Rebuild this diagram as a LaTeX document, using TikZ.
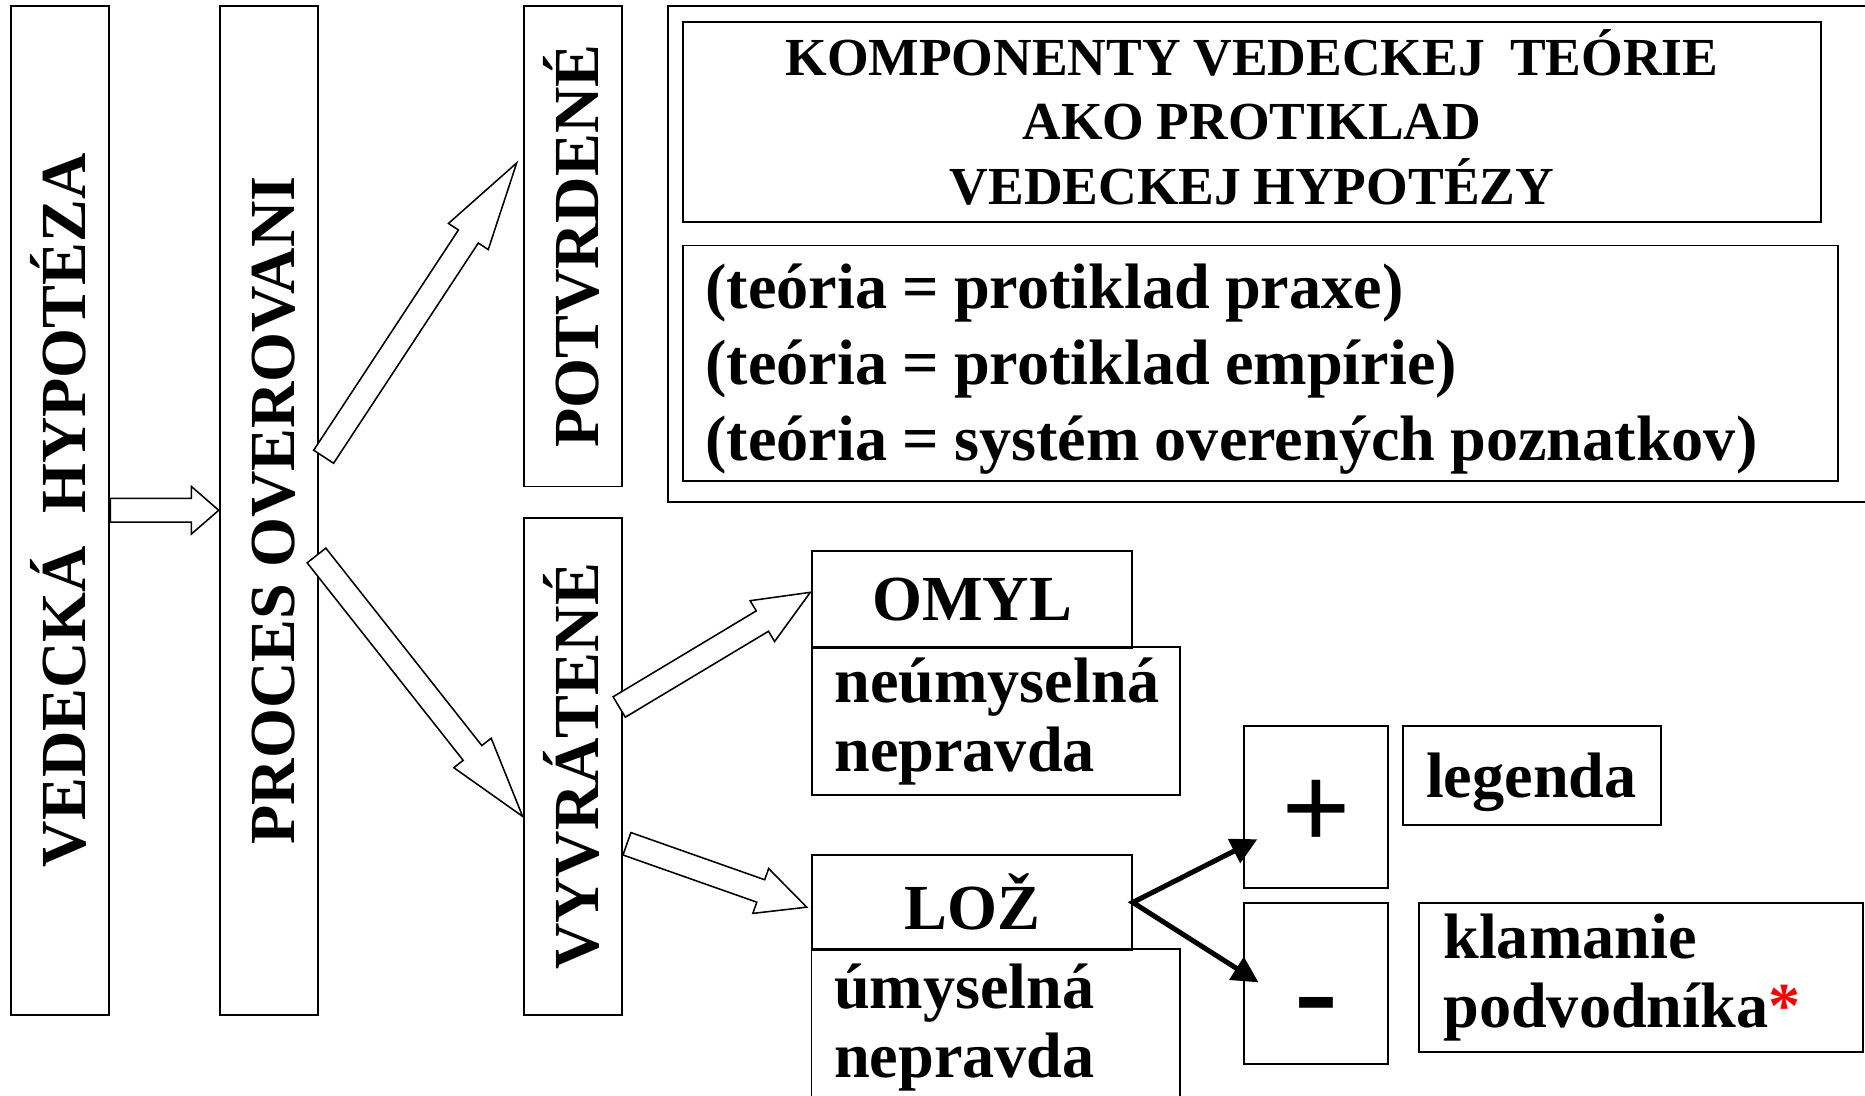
\documentclass[tikz,border=0pt]{standalone}
\usepackage{fontspec}
\setmainfont{Liberation Serif}
\setsansfont{Liberation Sans}
\usetikzlibrary{calc,arrows.meta}

% hollow block arrow from #1 to #2, head length #3
\newcommand\fatarrow[3]{%
  \coordinate (fa-b) at ($(#2)!#3!(#1)$);
  \draw[fatarrow] ($(#1)!10pt!90:(#2)$) -- ($(fa-b)!10pt!90:(#2)$) -- ($(fa-b)!20pt!90:(#2)$) -- (#2)
    -- ($(fa-b)!20pt!-90:(#2)$) -- ($(fa-b)!10pt!-90:(#2)$) -- ($(#1)!10pt!-90:(#2)$) -- cycle;
}

\begin{document}
\begin{tikzpicture}[x=1pt,y=-1pt,
  box/.style={draw, line width=1.6pt, inner sep=0pt, font=\bfseries\fontsize{54}{58}\selectfont},
  vbox/.style={box, rotate=90, minimum height=82.6pt, text height=43pt, text depth=0pt},
  narrow/.style={execute at begin node={\spaceskip=.235em\relax}},
  fatarrow/.style={draw, fill=white, line width=1.3pt, line join=miter},
  blackarrow/.style={line width=4.2pt, {Triangle[length=22pt,width=22pt]}-{Triangle[length=22pt,width=22pt]}}]
\useasboundingbox (0,0) rectangle (1568,921);
% vertical boxes (rotated: south = right side, north = left side)
\node[vbox, minimum width=848pt] (hyp) at (50.6,429) {VEDECKÁ\ \ HYPOTÉZA};
\node[vbox, minimum width=848pt] (proc) at (226,429) {PROCES OVEROVANI};
\node[vbox, minimum width=404pt] (potv) at (481.5,207) {POTVRDENÉ};
\node[vbox, minimum width=418pt] (vyvr) at (481.5,644.4) {VYVRÁTENÉ};
% theory frame
\draw[line width=1.6pt] (1568,5) -| (561.5,422) -- (1568,422);
\node[box, narrow, minimum width=956.4pt, minimum height=168.7pt, text width=930pt, align=center, text height=31pt,
  font=\bfseries\fontsize{45}{54}\selectfont] (title) at (1052.5,102.5)
  {KOMPONENTY VEDECKEJ\ \ TEÓRIE\\AKO PROTIKLAD\\VEDECKEJ HYPOTÉZY};
\node[box, narrow, minimum width=970.7pt, minimum height=198pt, text width=933pt, align=left, text height=47pt,
  font=\bfseries\fontsize{54}{64}\selectfont] (teoria) at (1059.7,305.4)
  {(teória = protiklad praxe)\\(teória = protiklad empírie)\\(teória = systém overených poznatkov)};
% omyl / loz
\node[box, minimum width=268.5pt, minimum height=82pt] (omyl) at (817.3,504) {OMYL};
\node[box, minimum width=309pt, minimum height=124.4pt, text width=272pt, align=left] (neum) at (837.5,606.2) {neúmyselná\\nepravda};
\node[box, minimum width=268.5pt, minimum height=80pt] (loz) at (817.3,758.7) {LOŽ};
\node[box, draw=none, minimum width=308.5pt, minimum height=122.3pt, text width=272pt, align=left, text height=45pt] (umys) at (837.3,859.9) {úmyselná\\nepravda};
\draw[line width=1.6pt] (umys.south west) -- (umys.north west) -- (umys.north east) -- (umys.south east);
% legend
\node[box, minimum width=121.4pt, minimum height=136.5pt, font=\bfseries\fontsize{103}{103}\selectfont] (plus) at (1106.6,678.6) {\raisebox{-36pt}[0pt][0pt]{+}};
\node[box, minimum width=121.4pt, minimum height=135.8pt, font=\sffamily\fontsize{116}{116}\selectfont] (minus) at (1106.6,826.9) {\raisebox{-47pt}[0pt][0pt]{-}};
\node[box, minimum width=216.4pt, minimum height=83.2pt, text width=178pt, align=left, text depth=0pt] (leg) at (1288,652) {legenda};
\node[box, minimum width=373.3pt, minimum height=125.2pt, text width=333pt, align=left] (klam) at (1380,821.6) {klamanie\\podvodníka\textcolor{red}{*}};
% arrows
\fatarrow{hyp.south}{proc.north}{23pt}
\fatarrow{[shift={(4,-45)}]proc.south}{[shift={(-5,-70)}]potv.north}{74pt}
\fatarrow{[shift={(-2,38)}]proc.south}{[shift={(0,42)}]vyvr.north}{68pt}
\fatarrow{[shift={(-3,-50)}]vyvr.south}{[shift={(-1,-6)}]omyl.west}{47pt}
\fatarrow{[shift={(3.5,65)}]vyvr.south}{[shift={(-4,4)}]loz.west}{41pt}
\draw[blackarrow] ([shift={(12,27)}]plus.west) -- (loz.east) -- ([shift={(13,-1)}]minus.west);
\end{tikzpicture}
\end{document}
